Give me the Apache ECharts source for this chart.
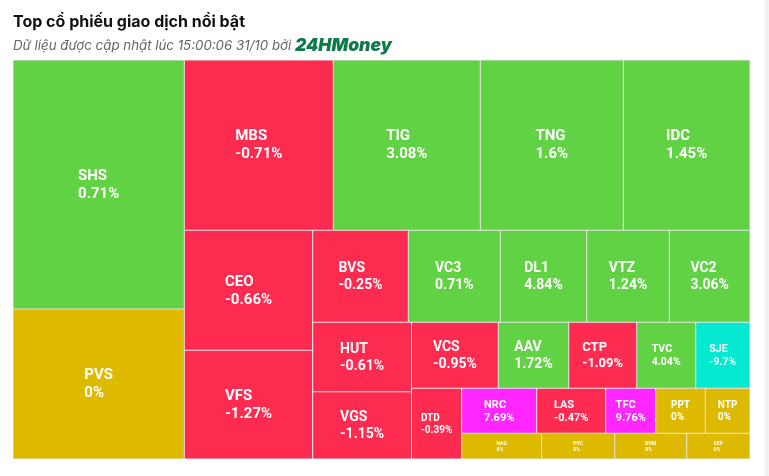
<!DOCTYPE html>
<html><head><meta charset="utf-8">
<script src="https://cdn.jsdelivr.net/npm/echarts@6/dist/echarts.min.js"></script>
<style>html,body{margin:0;padding:0;background:#f2f2f2;} #c{width:765px;height:476px;background:#fff;}</style>
</head><body><div id="c"></div>
<script>
// ---- data ----
const tickers = ['SHS','PVS','MBS','TIG','TNG','IDC','CEO','VFS','BVS','VC3','DL1','VTZ','VC2','HUT','VGS','VCS','AAV','CTP','TVC','SJE','DTD','NRC','LAS','TFC','PPT','NTP','NAG','PVC','DVM','SKP'];
const sizes   = [42654,25695,25375,25034,24353,21577,15408,13957,8795,8464,7949,7599,7424,6857,6649,5729,4646,4488,3894,3584,3549,3375,3105,2250,2232,2012,2056,1876,1850,1627];
const changes = [0.71,0,-0.71,3.08,1.6,1.45,-0.66,-1.27,-0.25,0.71,4.84,1.24,3.06,-0.61,-1.15,-0.95,1.72,-1.09,4.04,-9.7,-0.39,7.69,-0.47,9.76,0,0,0,0,0,0];
const ceilingHits = ['NRC','TFC'];
const floorHits = ['SJE'];

// ---- grouping (split = strips across, band = stacked along) ----
const S = (...c) => ({kind:'split', c});
const B = (...c) => ({kind:'band', c});
const groups = S(
  S('SHS','PVS'),
  B(
    S('MBS','TIG','TNG','IDC'),
    S(
      S('CEO','VFS'),
      B(
        S('BVS','VC3','DL1','VTZ','VC2'),
        S(
          S('HUT','VGS'),
          B(
            S('VCS','AAV','CTP','TVC','SJE'),
            S('DTD',
              B(
                S('NRC','LAS','TFC','PPT','NTP'),
                S('NAG','PVC','DVM','SKP')
              )
            )
          )
        )
      )
    )
  )
);

// ---- styles ----
const COLORS = {up:'#62D245', down:'#FE2B50', ref:'#DDB900', ceil:'#FF26FF', floor:'#04EAD2'};
const labelFont = {SHS:15, PVS:15, MBS:15, TIG:15, TNG:15, IDC:15, CEO:15, VFS:15,
  CTP:13, TVC:10.5, SJE:10.5, DTD:10, NRC:11, LAS:11, TFC:11, PPT:10, NTP:10, NAG:5, PVC:5, DVM:5, SKP:5};
const LABEL_FAMILY = 'Roboto';
const ctx = document.createElement('canvas').getContext('2d');
function textW(t, fs){ ctx.font = 'bold ' + fs + 'px ' + LABEL_FAMILY; return ctx.measureText(t).width; }

function leaf(name, cellH){
  const i = tickers.indexOf(name);
  const ch = changes[i];
  let st = ch > 0 ? 'up' : (ch < 0 ? 'down' : 'ref');
  if (ceilingHits.includes(name)) st = 'ceil';
  if (floorHits.includes(name)) st = 'floor';
  const fs = labelFont[name] || 14;
  const lh = Math.round(fs * 1.2);
  const l1 = name, l2 = ch + '%';
  const w1 = textW(l1, fs), w2 = textW(l2, fs);
  const tok = {fontSize:fs, lineHeight:lh, fontWeight:'bold', color:'#fff', fontFamily:LABEL_FAMILY};
  const rich = {n: tok};
  let f1 = '{n|' + l1 + '}', f2 = '{n|' + l2 + '}';
  if (w1 < w2) { rich.p = {width: w2 - w1, lineHeight: lh, fontSize: fs}; f1 += '{p| }'; }
  else if (w2 < w1) { rich.p = {width: w1 - w2, lineHeight: lh, fontSize: fs}; f2 += '{p| }'; }
  const padTop = cellH != null ? Math.max(0, (cellH - 2 * lh) / 2) : 0;
  return {
    name, value: sizes[i], change: ch,
    itemStyle: {color: COLORS[st], borderWidth: 0.5, borderColor: '#e2e2e2'},
    label: {formatter: f1 + '\n' + f2, rich, padding: [padTop, 0, 0, 0]}
  };
}
function spacer(){
  return {name:'', value:1e-6, itemStyle:{color:'rgba(0,0,0,0)', borderWidth:0, borderColor:'rgba(0,0,0,0)'},
    label:{show:false}, emphasis:{disabled:true}};
}
function build(node, heights){
  if (typeof node === 'string') return leaf(node, heights[node]);
  const kids = node.c.map(k => build(k, heights));
  const out = [];
  kids.forEach((k, j) => { if (j > 0 && node.kind === 'split') out.push(spacer()); out.push(k); });
  return {name:'', children: out};
}

function makeOption(heights){
  return {
    animation: false,
    title: {
      left: 13, top: 14, padding: 0, itemGap: 7,
      text: 'Top cổ phiếu giao dịch nổi bật',
      textStyle: {fontFamily:'Inter', fontWeight:'bold', fontSize:16, color:'#111'},
      subtext: 'Dữ liệu được cập nhật lúc 15:00:06 31/10 bởi {g|24HMoney}',
      subtextStyle: {fontFamily:'Inter', fontStyle:'italic', fontSize:13.3, color:'#666',
        rich: {g:{fontFamily:'Inter', fontStyle:'italic', fontWeight:900, fontSize:17.5, color:'#0E7A4A'}}}
    },
    series: [{
      type: 'treemap',
      left: 13, top: 60, width: 737, height: 399,
      sort: false, squareRatio: 100,
      roam: false, nodeClick: false,
      breadcrumb: {show: false},
      itemStyle: {borderWidth: 0, gapWidth: 0, borderColor: '#fff'},
      label: {show: true, position: 'inside', align: 'center', verticalAlign: 'middle',
        color: '#fff', fontWeight: 'bold', fontFamily: LABEL_FAMILY},
      emphasis: {disabled: true},
      data: build(groups, heights).children
    }]
  };
}

const chart = echarts.init(document.getElementById('c'));
chart.setOption(makeOption({}));
// read the cell heights the treemap layout produced, then centre labels vertically
const heights = {};
const sd = chart.getModel().getSeriesByIndex(0).getData();
for (let i = 0; i < sd.count(); i++) {
  const nm = sd.getName(i);
  const lay = sd.getItemLayout(i);
  if (tickers.includes(nm) && lay) heights[nm] = lay.height;
}
chart.setOption(makeOption(heights), {notMerge: true});
</script></body></html>
